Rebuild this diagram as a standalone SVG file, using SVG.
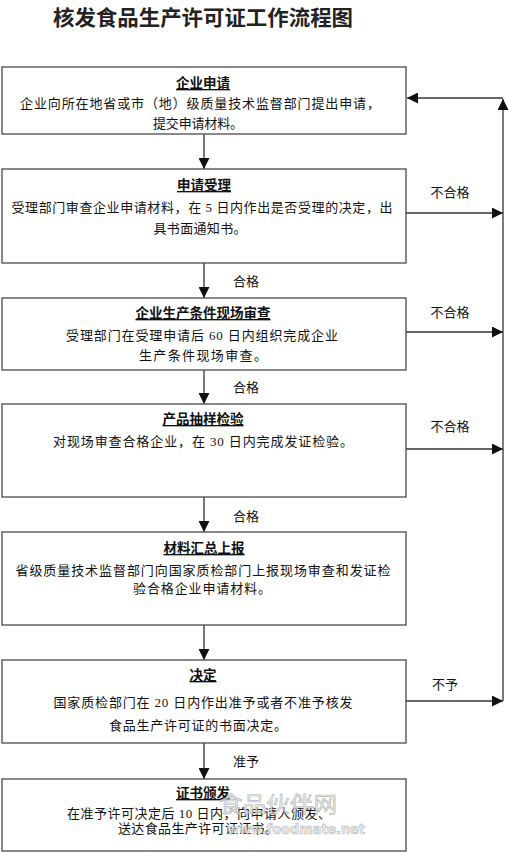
<svg xmlns="http://www.w3.org/2000/svg" width="509" height="853" viewBox="0 0 509 853">
<style>
.box{fill:#fff;stroke:#4a4a4a;stroke-width:1.3}
.t{font-family:"Liberation Serif","Noto Sans CJK SC",serif;font-size:13px;fill:#111;text-anchor:middle}
.h{font-family:"Liberation Serif","Noto Sans CJK SC",serif;font-size:13.5px;font-weight:bold;fill:#111;text-anchor:middle;text-decoration:underline}
.lbl{font-family:"Liberation Serif","Noto Sans CJK SC",serif;font-size:13px;fill:#111;text-anchor:middle}
.title{font-family:"Liberation Serif","Noto Sans CJK SC",serif;font-size:21px;font-weight:bold;fill:#222;text-anchor:middle}
.c{fill:none;stroke:#333;stroke-width:1.3}
.wm{font-family:"DejaVu Sans","Noto Sans CJK SC",sans-serif;fill:#e8e8e8;stroke:#aaa;stroke-width:0.6;text-anchor:middle;opacity:0.85}
</style>
<defs>
<marker id="ah" markerUnits="userSpaceOnUse" markerWidth="11" markerHeight="11" refX="10" refY="5" orient="auto" viewBox="0 0 10 10">
<path d="M0,0 L10,5 L0,10 z" fill="#111"/>
</marker>
</defs>
<rect width="509" height="853" fill="#fff"/>
<text class="title" x="203" y="25" textLength="300" lengthAdjust="spacingAndGlyphs">核发食品生产许可证工作流程图</text>

<g id="connectors">
<line class="c" x1="204" y1="134" x2="204" y2="169" marker-end="url(#ah)"/>
<line class="c" x1="204" y1="263" x2="204" y2="298" marker-end="url(#ah)"/>
<line class="c" x1="204" y1="370" x2="204" y2="404" marker-end="url(#ah)"/>
<line class="c" x1="204" y1="497" x2="204" y2="532" marker-end="url(#ah)"/>
<line class="c" x1="204" y1="625" x2="204" y2="660" marker-end="url(#ah)"/>
<line class="c" x1="204" y1="743" x2="204" y2="779" marker-end="url(#ah)"/>
<line class="c" x1="406" y1="213" x2="503" y2="213" marker-end="url(#ah)"/>
<line class="c" x1="406" y1="332" x2="503" y2="332" marker-end="url(#ah)"/>
<line class="c" x1="406" y1="449" x2="503" y2="449" marker-end="url(#ah)"/>
<line class="c" x1="406" y1="701" x2="503" y2="701" marker-end="url(#ah)"/>
<line class="c" x1="503" y1="701" x2="503" y2="99" marker-end="url(#ah)"/>
<line class="c" x1="503" y1="98" x2="407" y2="98" marker-end="url(#ah)"/>
<text class="lbl" x="450" y="197">不合格</text>
<text class="lbl" x="450" y="317">不合格</text>
<text class="lbl" x="450" y="431">不合格</text>
<text class="lbl" x="445" y="689">不予</text>
<text class="lbl" x="246" y="286">合格</text>
<text class="lbl" x="246" y="392">合格</text>
<text class="lbl" x="246" y="521">合格</text>
<text class="lbl" x="246" y="766">准予</text>
</g>

<g id="n1">
<rect class="box" x="2" y="67" width="404" height="67"/>
<text class="h" x="203" y="88">企业申请</text>
<text class="t" x="200" y="108" textLength="360" lengthAdjust="spacing">企业向所在地省或市（地）级质量技术监督部门提出申请，</text>
<text class="t" x="198" y="128" textLength="90" lengthAdjust="spacing">提交申请材料。</text>
</g>

<g id="n2">
<rect class="box" x="2" y="169" width="404" height="94"/>
<text class="h" x="204" y="190">申请受理</text>
<text class="t" x="202" y="212" textLength="381" lengthAdjust="spacing">受理部门审查企业申请材料，在 5 日内作出是否受理的决定，出</text>
<text class="t" x="200" y="233" textLength="93" lengthAdjust="spacing">具书面通知书。</text>
</g>

<g id="n3">
<rect class="box" x="2" y="298" width="404" height="72"/>
<text class="h" x="203" y="318">企业生产条件现场审查</text>
<text class="t" x="202" y="340" textLength="272" lengthAdjust="spacing">受理部门在受理申请后 60 日内组织完成企业</text>
<text class="t" x="203" y="360" textLength="128" lengthAdjust="spacing">生产条件现场审查。</text>
</g>

<g id="n4">
<rect class="box" x="2" y="404" width="404" height="93"/>
<text class="h" x="203" y="424">产品抽样检验</text>
<text class="t" x="203" y="446" textLength="300" lengthAdjust="spacing">对现场审查合格企业，在 30 日内完成发证检验。</text>
</g>

<g id="n5">
<rect class="box" x="2" y="532" width="404" height="93"/>
<text class="h" x="204" y="553">材料汇总上报</text>
<text class="t" x="203" y="575" textLength="375" lengthAdjust="spacing">省级质量技术监督部门向国家质检部门上报现场审查和发证检</text>
<text class="t" x="202" y="593" textLength="138" lengthAdjust="spacing">验合格企业申请材料。</text>
</g>

<g id="n6">
<rect class="box" x="2" y="660" width="404" height="83"/>
<text class="h" x="203" y="680">决定</text>
<text class="t" x="203" y="707" textLength="299" lengthAdjust="spacing">国家质检部门在 20 日内作出准予或者不准予核发</text>
<text class="t" x="198" y="730" textLength="178" lengthAdjust="spacing">食品生产许可证的书面决定。</text>
</g>

<g id="n7">
<rect class="box" x="2" y="779" width="404" height="72"/>
<text class="h" x="203" y="798">证书颁发</text>
<text class="t" x="199" y="818" textLength="264" lengthAdjust="spacing">在准予许可决定后 10 日内，向申请人颁发、</text>
<text class="t" x="198" y="833" textLength="160" lengthAdjust="spacing">送达食品生产许可证证书。</text>
</g>

<g id="watermark">
<text class="wm" x="278" y="812" font-size="22" textLength="118" lengthAdjust="spacingAndGlyphs">食品伙伴网</text>
<text class="wm" x="296" y="834" font-size="14" font-weight="bold" textLength="138" lengthAdjust="spacingAndGlyphs">www.foodmate.net</text>
</g>
</svg>
